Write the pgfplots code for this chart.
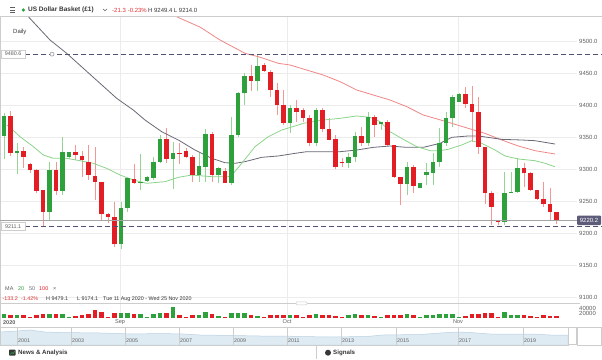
\documentclass[border=0pt]{standalone}
\usepackage{pgfplots}
\pgfplotsset{compat=1.18}
\usepackage{pgfplotstable}
\usepackage{fontspec}
\setmainfont{Liberation Sans}

\definecolor{cred}{RGB}{226,30,36}
\definecolor{cgreen}{RGB}{46,160,60}
\definecolor{wred}{RGB}{242,150,150}
\definecolor{wgreen}{RGB}{150,212,150}
\definecolor{ma20}{RGB}{140,212,140}
\definecolor{ma50}{RGB}{105,105,118}
\definecolor{ma100}{RGB}{240,135,135}
\definecolor{dashc}{RGB}{80,80,112}
\definecolor{gridc}{RGB}{236,236,236}
\definecolor{txt}{RGB}{55,55,55}
\definecolor{lbl}{RGB}{95,95,95}
\definecolor{boxc}{RGB}{92,92,122}
\definecolor{navfill}{RGB}{222,235,243}
\definecolor{navline}{RGB}{185,208,226}
\definecolor{sep}{RGB}{205,205,205}
\definecolor{hred}{RGB}{224,50,50}

% i open high low close volume
\pgfplotstableread{
i o h l c v
1 9353.0 9387.9 9316.5 9383.8 15000
3 9326.4 9341.0 9293.0 9329.5 14000
8 9234.0 9312.3 9219.4 9299.2 16000
10 9266.4 9351.4 9260.1 9326.9 16000
11 9320.1 9327.9 9315.9 9326.9 3000
19 9182.9 9249.7 9175.1 9240.3 20000
20 9240.3 9286.2 9234.0 9286.2 20000
22 9279.4 9324.3 9267.9 9281.0 18000
23 9282.5 9289.8 9281.0 9287.8 6000
24 9287.2 9320.1 9283.6 9312.3 16000
25 9312.3 9354.0 9309.7 9347.2 22000
27 9315.9 9343.6 9269.0 9326.4 44000
31 9291.4 9325.3 9281.0 9305.5 14000
32 9304.5 9362.9 9281.0 9355.1 24000
34 9291.4 9304.5 9278.4 9301.8 10000
36 9278.4 9381.7 9275.8 9354.0 22000
37 9354.0 9421.8 9351.4 9419.2 20000
38 9419.2 9450.5 9401.0 9446.4 20000
40 9439.1 9479.2 9423.4 9462.0 8000
45 9373.3 9401.0 9357.7 9396.8 12000
49 9342.0 9395.8 9336.8 9393.1 16000
54 9309.7 9325.3 9302.9 9319.1 12000
55 9319.1 9359.2 9312.3 9352.5 16000
57 9341.0 9390.5 9336.8 9381.7 12000
59 9370.7 9374.9 9361.8 9374.9 3000
63 9277.3 9312.3 9260.1 9303.4 16000
65 9271.6 9278.4 9270.5 9278.4 4000
66 9291.4 9309.7 9275.8 9295.6 12000
67 9295.1 9325.3 9275.8 9311.2 12000
68 9311.2 9364.4 9303.4 9341.0 16000
69 9341.0 9390.5 9336.8 9380.1 18000
70 9380.1 9416.6 9366.0 9414.0 16000
71 9406.2 9419.2 9406.2 9418.2 3000
78 9218.4 9296.6 9213.2 9263.8 26000
79 9263.8 9296.6 9262.7 9265.3 14000
80 9265.3 9317.5 9263.8 9302.9 14000
}\greentab

\pgfplotstableread{
i o h l c v
2 9383.8 9391.6 9321.2 9325.3 12000
4 9329.5 9335.8 9302.9 9319.1 12000
5 9308.1 9309.7 9294.0 9299.2 3000
6 9299.2 9300.3 9262.7 9266.9 14000
7 9267.9 9267.9 9212.1 9234.0 15000
9 9299.2 9312.3 9260.1 9266.4 15000
12 9326.9 9338.4 9314.9 9322.2 10000
13 9321.7 9329.0 9288.8 9314.9 12000
14 9312.3 9338.4 9283.6 9291.4 18000
15 9290.4 9335.8 9252.3 9281.0 34000
16 9281.0 9281.0 9221.0 9229.9 24000
17 9230.4 9231.4 9215.8 9226.2 4000
18 9226.2 9249.7 9179.2 9182.9 22000
21 9285.2 9308.6 9277.3 9279.4 16000
26 9347.2 9364.4 9310.7 9315.9 20000
28 9325.3 9341.0 9308.6 9323.8 12000
29 9329.0 9333.1 9317.5 9319.1 3000
30 9320.1 9322.7 9281.0 9291.4 14000
33 9355.1 9359.2 9281.0 9291.4 18000
35 9298.2 9301.8 9278.4 9278.4 3000
39 9446.9 9463.6 9423.4 9439.1 14000
41 9463.6 9466.2 9453.1 9454.2 3000
42 9453.1 9455.7 9414.0 9424.4 12000
43 9424.4 9434.9 9385.3 9401.0 12000
44 9401.0 9424.4 9369.7 9373.3 14000
46 9396.8 9408.8 9374.9 9390.5 14000
47 9393.1 9395.8 9374.9 9381.1 4000
48 9381.1 9385.3 9336.8 9342.0 12000
50 9393.1 9395.8 9359.2 9362.9 12000
51 9362.9 9380.1 9346.2 9346.2 12000
52 9347.2 9354.0 9300.3 9303.4 10000
53 9311.2 9317.5 9303.4 9309.7 3000
56 9352.5 9366.0 9336.8 9341.0 12000
58 9381.7 9385.3 9351.4 9369.7 10000
60 9374.9 9377.5 9336.8 9338.4 14000
61 9338.4 9338.4 9286.2 9287.8 14000
62 9288.8 9288.8 9244.5 9277.3 12000
64 9303.4 9307.1 9263.8 9274.7 12000
72 9418.2 9429.7 9395.8 9402.5 10000
73 9402.5 9430.7 9343.6 9390.5 16000
74 9390.5 9414.0 9324.3 9334.7 18000
75 9335.8 9335.8 9246.0 9262.7 22000
76 9263.8 9266.9 9213.2 9241.8 20000
77 9219.4 9221.0 9213.2 9217.9 3000
81 9301.8 9309.7 9273.2 9294.0 12000
82 9294.0 9296.6 9266.9 9267.9 8000
83 9267.9 9267.9 9252.3 9253.3 3000
84 9253.3 9281.0 9241.8 9245.5 12000
85 9246.0 9270.5 9221.0 9234.0 10000
86 9234.0 9234.0 9214.0 9220.2 8000
}\redtab

\pgfplotsset{
  candle/.style 2 args={draw=none, mark=none, error bars/.cd, y dir=plus, y explicit,
    error mark=none, error bar style={draw=#1, line width=#2}},
}

\begin{document}
\begin{tikzpicture}[x=1bp,y=1bp]
\fill[white] (0,0) rectangle (602,359);

% ---------- price panel ----------
\begin{axis}[
  at={(0bp,56bp)}, anchor=south west, scale only axis,
  width=577bp, height=286bp,
  xmin=0.385, xmax=89.15, ymin=9091.1, ymax=9538.7,
  axis line style={draw=none}, major tick length=0pt,
  xtick={18.85,44.54,70.85}, xticklabels={},
  ytick={9100,9150,...,9500}, yticklabel pos=right,
  /pgf/number format/fixed, /pgf/number format/fixed zerofill,
  /pgf/number format/precision=1, /pgf/number format/1000 sep={},
  /pgf/number format/assume math mode=true,
  yticklabel style={font=\fontsize{6}{7}\selectfont, text=lbl, inner sep=1bp, xshift=1bp},
  grid=major, major grid style={gridc, line width=0.6bp},
]
% wicks
\addplot[candle={wgreen}{0.9bp}] table[x=i, y=l, y error expr=\thisrow{h}-\thisrow{l}] {\greentab};
\addplot[candle={wred}{0.9bp}] table[x=i, y=l, y error expr=\thisrow{h}-\thisrow{l}] {\redtab};
% moving averages
\addplot[ma100, line width=0.8bp] coordinates {(27.62,9538.7) (31.15,9523.0) (34.23,9502.7) (38.08,9481.8) (40.12,9476.6) (43.2,9466.2) (45.0,9463.6) (47.57,9455.7) (50.12,9447.9) (52.69,9437.5) (55.26,9424.4) (57.82,9416.6) (60.38,9408.8) (62.95,9398.4) (65.51,9385.3) (67.3,9380.1) (69.88,9372.3) (72.43,9364.4) (75,9356.6) (77.57,9346.2) (80.12,9336.8) (82.69,9329.5) (85.77,9324.3)};
\addplot[ma50, line width=0.8bp] coordinates {(4.74,9539.2) (8.08,9502.7) (10.65,9481.8) (13.2,9458.4) (15.77,9434.9) (18.34,9411.4) (20.89,9393.1) (22.69,9377.5) (25.26,9359.2) (27.82,9346.2) (30.38,9330.5) (32.95,9317.5) (35,9310.7) (36.54,9309.7) (38.08,9312.3) (40.65,9319.1) (43.2,9321.2) (45.77,9325.3) (47.57,9327.9) (50.12,9327.9) (52.69,9327.9) (55.26,9330.5) (57.82,9334.7) (60.38,9336.8) (62.95,9334.7) (65.51,9334.7) (68.08,9341.0) (69.88,9350.4) (72.43,9352.5) (73.97,9352.5) (77.57,9347.2) (80.65,9346.2) (82.69,9345.1) (85.77,9339.9)};
\addplot[ma20, line width=0.8bp] coordinates {(1.42,9369.7) (1.92,9366.0) (3.46,9351.4) (5.51,9335.8) (7.05,9322.7) (8.58,9317.5) (10.65,9317.5) (12.69,9313.8) (14.74,9309.7) (16.8,9301.8) (18.85,9291.4) (20.89,9283.6) (22.95,9278.4) (25.77,9281.0) (27.82,9287.8) (29.88,9291.4) (32.95,9288.8) (35.51,9288.8) (36.28,9294.0) (37.57,9309.7) (39.62,9335.8) (41.66,9351.4) (43.72,9361.8) (45.77,9368.1) (47.05,9372.3) (50.12,9377.5) (52.69,9380.1) (55.26,9383.8) (57.31,9381.7) (58.85,9374.9) (60.38,9359.2) (62.43,9347.2) (64.49,9335.8) (66.54,9329.5) (68.08,9329.5) (69.31,9331.6) (71.42,9338.4) (72.95,9345.1) (74.49,9341.0) (76.54,9330.5) (78.08,9321.2) (80.12,9316.5) (82.69,9313.8) (84.23,9309.7) (85.77,9304.4)};
% bodies
\addplot[candle={cgreen}{4.6bp}] table[x=i, y=o, y error expr=\thisrow{c}-\thisrow{o}] {\greentab};
\addplot[candle={cred}{4.6bp}] table[x=i, y=c, y error expr=\thisrow{o}-\thisrow{c}] {\redtab};
\end{axis}

% ---------- volume panel ----------
\begin{axis}[
  at={(0bp,41bp)}, anchor=south west, scale only axis,
  width=577bp, height=15bp,
  xmin=0.385, xmax=89.15, ymin=0, ymax=60000,
  axis line style={draw=none}, major tick length=0pt,
  scaled y ticks=false,
  xtick={18.85,44.54,70.85}, xticklabels={Sep,Oct,Nov},
  xticklabel style={font=\fontsize{5.6}{6}\selectfont, text=lbl, inner sep=0.5bp, yshift=-1bp},
  ytick={20000,40000}, yticklabels={20000,40000}, yticklabel pos=right,
  yticklabel style={font=\fontsize{6}{7}\selectfont, text=lbl, inner sep=1bp, xshift=1bp},
  xmajorgrids, major grid style={gridc, line width=0.6bp},
]
\addplot[ycomb, draw=cgreen, line width=4.6bp, mark=none] table[x=i, y=v] {\greentab};
\addplot[ycomb, draw=cred, line width=4.6bp, mark=none] table[x=i, y=v] {\redtab};
\end{axis}

% ---------- navigator ----------
\begin{axis}[
  at={(0bp,14bp)}, anchor=south west, scale only axis,
  width=568bp, height=18bp, xmin=0, xmax=568, ymin=0, ymax=18,
  hide axis,
]
\addplot[fill=navfill, draw=navline, line width=0.5bp] coordinates {(0,13) (17,14) (30,15) (45,13) (60,12.5) (100,12) (133,11) (160,11.5) (183,11) (200,10) (233,9.5) (260,9) (283,9) (300,8.5) (330,8) (367,8.5) (383,10) (420,10.5) (440,12) (458,13) (470,12.5) (490,11) (533,11) (550,10) (568,10)} \closedcycle;
\end{axis}
\draw[sep, line width=0.6bp] (0,14) rectangle (568,32);
\foreach \xx/\yy in {17/2001,71/2003,125/2005,179/2007,233/2009,287/2011,341/2013,396/2015,458/2017,523/2019}{
  \draw[sep, line width=0.6bp] (\xx,14) -- (\xx,32);
  \node[anchor=west, inner sep=0, font=\fontsize{5.3}{6}\selectfont, text=lbl] at (\xx+1,18.3) {\yy};
}
\draw[sep, fill=white, line width=0.5bp] (568.5,14.5) rectangle (576.5,31.5);
\draw[sep, line width=0.5bp] (577,14) rectangle (601.5,32);

% ---------- frame lines ----------
\draw[sep, line width=0.6bp] (0,343) -- (602,343);
\draw[sep, line width=0.6bp] (0.5,14) -- (0.5,343);
\draw[sep, line width=0.6bp] (0,55.7) -- (580,55.7);
\draw[sep, fill=white, rounded corners=1bp, line width=0.5bp] (296,54.2) rectangle (307,57.2);

% ---------- level lines ----------
\draw[dashc, line width=1.2bp, dash pattern=on 4.5bp off 3.5bp] (25,304.9) -- (602,304.9);
\draw[dashc, line width=1.2bp, dash pattern=on 4.5bp off 3.5bp] (25,132.7) -- (602,132.7);
\draw[sep!80!black, line width=0.6bp] (0,138.5) -- (577,138.5);
\draw[sep, fill=white, line width=0.5bp] (1.5,300.9) rectangle (25,308.9);
\node[inner sep=0, font=\fontsize{5.4}{6}\selectfont, text=lbl] at (13.2,304.9) {9480.6};
\draw[sep, fill=white, line width=0.5bp] (1.5,128.7) rectangle (25,136.7);
\node[inner sep=0, font=\fontsize{5.4}{6}\selectfont, text=lbl] at (13.2,132.7) {9211.1};
\draw[lbl!70, fill=white, line width=0.5bp] (52,304.9) circle (2bp);
\fill[boxc, rounded corners=1bp] (577,134) rectangle (601,143.5);
\node[inner sep=0, font=\fontsize{6}{7}\selectfont, text=white] at (589,138.7) {9220.2};

% ---------- header ----------
\foreach \yy in {346.5,349,351.5} {\draw[lbl, line width=0.6bp] (10,\yy) -- (15,\yy);}
\fill[cgreen] (23.3,349) circle (1.8bp);
\node[anchor=west, inner sep=0, font=\bfseries\fontsize{6.5}{7}\selectfont, text=txt] at (28,349) {US Dollar Basket (£1)};
\draw[lbl, line width=0.5bp] (103,350) -- (105,348.3) -- (107,350);
\node[anchor=west, inner sep=0, font=\fontsize{6}{7}\selectfont, text=hred] at (112,349) {-21.3\hspace{2bp}-0.23\%};
\node[anchor=west, inner sep=0, font=\fontsize{6}{7}\selectfont, text=txt] at (148,349) {H 9249.4\hspace{1.5bp}L 9214.0};
\node[anchor=west, inner sep=0, font=\fontsize{6}{7}\selectfont, text=txt] at (13,327) {Daily};

% ---------- indicator rows ----------
\node[anchor=west, inner sep=0, font=\fontsize{5.5}{6}\selectfont, text=lbl] at (5,70) {MA};
\node[anchor=west, inner sep=0, font=\fontsize{5.5}{6}\selectfont, text=cgreen] at (18,70) {20};
\node[anchor=west, inner sep=0, font=\fontsize{5.5}{6}\selectfont, text=ma50] at (29,70) {50};
\node[anchor=west, inner sep=0, font=\fontsize{5.5}{6}\selectfont, text=cred] at (39,70) {100};
\node[anchor=west, inner sep=0, font=\fontsize{5.5}{6}\selectfont, text=lbl] at (53,70) {×};
\node[anchor=west, inner sep=0, font=\fontsize{5.4}{6}\selectfont, text=hred] at (2.5,60) {-133.2};
\node[anchor=west, inner sep=0, font=\fontsize{5.4}{6}\selectfont, text=hred] at (21,60) {-1.42\%};
\node[anchor=west, inner sep=0, font=\fontsize{5.4}{6}\selectfont, text=txt] at (46,60) {H 9479.1};
\node[anchor=west, inner sep=0, font=\fontsize{5.4}{6}\selectfont, text=txt] at (77,60) {L 9174.1};
\node[anchor=west, inner sep=0, font=\fontsize{5.4}{6}\selectfont, text=txt] at (103,60) {Tue 11 Aug 2020 - Wed 25 Nov 2020};
\node[anchor=west, inner sep=0, font=\bfseries\fontsize{5.5}{6}\selectfont, text=lbl] at (3,36) {2020};

% ---------- bottom bar ----------
\draw[sep, line width=0.6bp] (316.5,0) -- (316.5,13.5);
\fill[txt, rounded corners=0.8bp] (9,3.3) rectangle (15.5,9.5);
\draw[cgreen, line width=0.6bp] (10,4.5) -- (12,6.5) -- (13.3,5.5) -- (14.8,8);
\node[anchor=west, inner sep=0, font=\bfseries\fontsize{6.2}{7}\selectfont, text=txt] at (18,6.3) {News \& Analysis};
\fill[txt] (328,6.3) circle (3bp);
\node[anchor=west, inner sep=0, font=\bfseries\fontsize{6.2}{7}\selectfont, text=txt] at (333,6.3) {Signals};

\pgfresetboundingbox
\path[use as bounding box] (0,0) rectangle (602,359);
\end{tikzpicture}
\end{document}
